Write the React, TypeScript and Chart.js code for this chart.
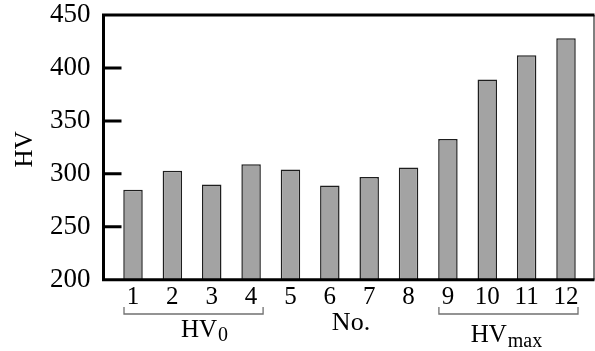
import React, { useEffect, useRef } from 'react';
import { Chart, registerables } from 'chart.js';

Chart.register(...registerables);

// ---- data ----
const categories = ['1', '2', '3', '4', '5', '6', '7', '8', '9', '10', '11', '12'];
const hardness = [285, 303, 290, 309, 304, 289, 297, 306, 333, 389, 412, 428];
const yTickValues = [200, 250, 300, 350, 400, 450];
const groupMain = ['HV', 'HV'];
const groupSub = ['0', 'max'];
const groupFirst = [1, 9];
const groupLast = [4, 12];
const xTitle = 'No.';
const yTitle = 'HV';

const FONT = '"Liberation Serif", "Times New Roman", Times, serif';

export default function App() {
  const ref = useRef<HTMLCanvasElement | null>(null);

  useEffect(() => {
    const canvas = ref.current;
    if (!canvas) return;

    const framePlugin = {
      id: 'framePlugin',
      afterDraw(chart: any) {
        const { ctx, chartArea: a, scales } = chart;
        const xs = scales.x;
        const ys = scales.y;
        ctx.save();
        // thick frame: left, bottom, top
        ctx.strokeStyle = '#000';
        ctx.lineWidth = 3;
        ctx.beginPath();
        ctx.moveTo(a.left, a.top - 1.5);
        ctx.lineTo(a.left, a.bottom + 1.5);
        ctx.moveTo(a.left - 1.5, a.bottom);
        ctx.lineTo(a.right, a.bottom);
        ctx.moveTo(a.left - 1.5, a.top);
        ctx.lineTo(a.right, a.top);
        ctx.stroke();
        // thin right line
        ctx.lineWidth = 1;
        ctx.beginPath();
        ctx.moveTo(a.right - 0.5, a.top);
        ctx.lineTo(a.right - 0.5, a.bottom);
        ctx.stroke();
        // inner y ticks
        ctx.lineWidth = 3;
        ctx.beginPath();
        yTickValues.slice(1, -1).forEach((v) => {
          const py = ys.getPixelForValue(v);
          ctx.moveTo(a.left, py);
          ctx.lineTo(a.left + 18, py);
        });
        ctx.stroke();

        // group brackets
        const dxs = [11, -2];
        const baseY = [337, 342];
        const subDrop = [4, 5];
        for (let g = 0; g < groupMain.length; g++) {
          const x0 = xs.getPixelForValue(groupFirst[g]) - 9;
          const x1 = xs.getPixelForValue(groupLast[g]) + 12;
          ctx.strokeStyle = '#707070';
          ctx.lineWidth = 1.3;
          ctx.beginPath();
          ctx.moveTo(x0, 307);
          ctx.lineTo(x0, 314);
          ctx.lineTo(x1, 314);
          ctx.lineTo(x1, 307);
          ctx.stroke();

          ctx.fillStyle = '#000';
          ctx.textBaseline = 'alphabetic';
          ctx.textAlign = 'left';
          ctx.font = `25px ${FONT}`;
          const w1 = ctx.measureText(groupMain[g]).width;
          ctx.font = `20px ${FONT}`;
          const w2 = ctx.measureText(groupSub[g]).width;
          const cx = (x0 + x1) / 2 + dxs[g];
          const sx = cx - (w1 + w2 + 1) / 2;
          ctx.font = `25px ${FONT}`;
          ctx.fillText(groupMain[g], sx, baseY[g]);
          ctx.font = `20px ${FONT}`;
          ctx.fillText(groupSub[g], sx + w1 + 1, baseY[g] + subDrop[g]);
        }

        // x title
        ctx.fillStyle = '#000';
        ctx.font = `26px ${FONT}`;
        ctx.textAlign = 'center';
        ctx.textBaseline = 'alphabetic';
        ctx.fillText(xTitle, (a.left + a.right) / 2 + 2, 330);

        // y title
        ctx.save();
        ctx.translate(32, (a.top + a.bottom) / 2 + 2);
        ctx.rotate(-Math.PI / 2);
        ctx.font = `25px ${FONT}`;
        ctx.textAlign = 'center';
        ctx.textBaseline = 'alphabetic';
        ctx.fillText(yTitle, 0, 0);
        ctx.restore();

        ctx.restore();
      },
    };

    const chart = new Chart(canvas, {
      type: 'bar',
      data: {
        datasets: [
          {
            label: yTitle,
            data: hardness.map((v, i) => ({ x: i + 1, y: v })),
            backgroundColor: '#a3a3a3',
            borderColor: '#1e1e1e',
            borderWidth: 1.5,
            barPercentage: 0.495,
            categoryPercentage: 1,
          },
        ],
      },
      options: {
        responsive: false,
        animation: false,
        layout: { padding: { left: 0, top: 15, right: 0.5, bottom: 0 } },
        plugins: {
          legend: { display: false },
          tooltip: { enabled: false },
        },
        scales: {
          x: {
            type: 'linear',
            offset: false,
            min: 0.2505,
            max: 12.724,
            grid: { display: false, drawTicks: false, offset: false },
            border: { display: false },
            afterBuildTicks: (scale: any) => {
              scale.ticks = categories.map((_, i) => ({ value: i + 1 }));
            },
            afterFit: (scale: any) => {
              scale.height = 71.3;
              scale.paddingLeft = 0;
              scale.paddingRight = 0;
            },
            ticks: {
              autoSkip: false,
              maxRotation: 0,
              padding: 3,
              color: '#000',
              font: { family: FONT, size: 25 },
              callback: (value: any) => categories[Math.round(Number(value)) - 1],
            },
          },
          y: {
            type: 'linear',
            min: 200,
            max: 450,
            grid: { display: false, drawTicks: false },
            border: { display: false },
            afterBuildTicks: (scale: any) => {
              scale.ticks = yTickValues.map((v) => ({ value: v }));
            },
            afterFit: (scale: any) => {
              scale.width = 103.5;
              scale.paddingTop = 0;
              scale.paddingBottom = 0;
            },
            ticks: {
              padding: 13,
              color: '#000',
              font: { family: FONT, size: 27 },
            },
          },
        },
      },
      plugins: [framePlugin],
    } as any);

    return () => chart.destroy();
  }, []);

  return (
    <div style={{ position: 'absolute', left: 0, top: 0, width: 595, height: 351, background: '#fff' }}>
      <canvas ref={ref} width={595} height={351} style={{ display: 'block' }} />
    </div>
  );
}
